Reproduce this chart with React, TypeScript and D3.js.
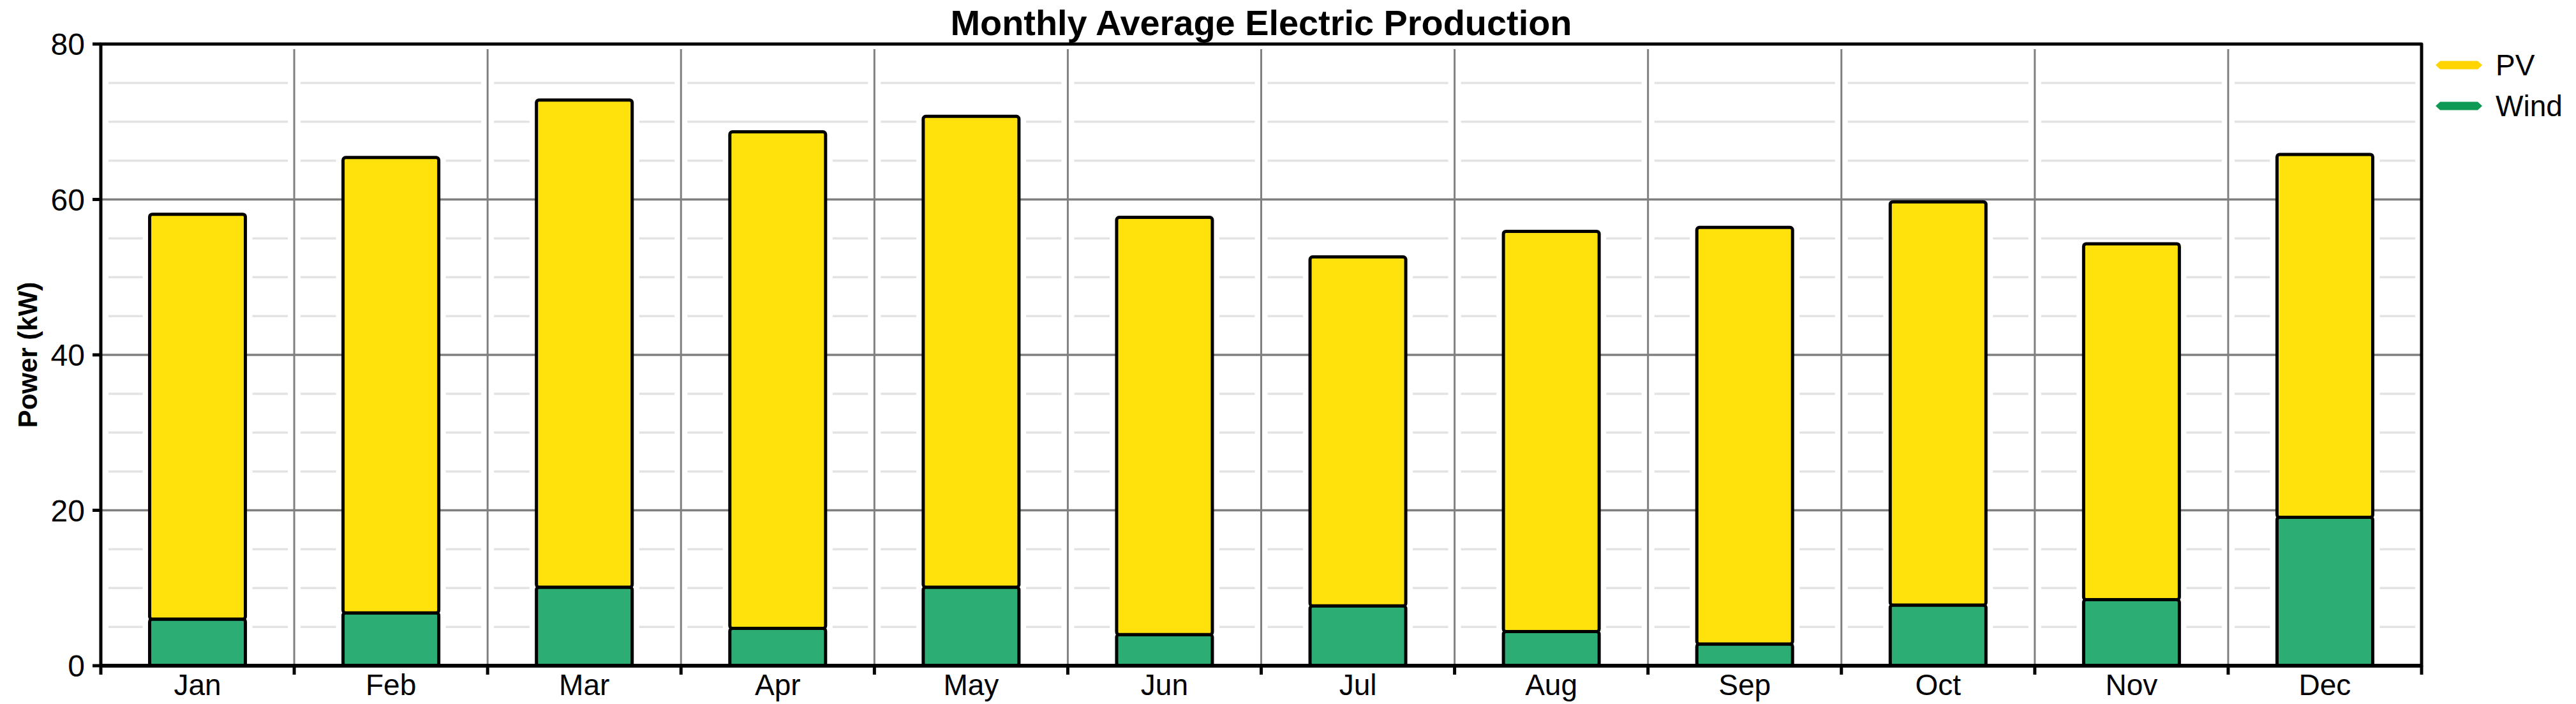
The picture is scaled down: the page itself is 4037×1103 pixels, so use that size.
import React from "react";
import * as d3 from "d3";

const months = ["Jan", "Feb", "Mar", "Apr", "May", "Jun", "Jul", "Aug", "Sep", "Oct", "Nov", "Dec"];
const windValues = [6.0, 6.8, 10.1, 4.8, 10.1, 4.0, 7.7, 4.4, 2.8, 7.8, 8.5, 19.1];
const pvValues = [52.1, 58.6, 62.7, 63.9, 60.6, 53.7, 44.9, 51.5, 53.6, 51.9, 45.8, 46.7];
const seriesNames = ["Wind", "PV"];
const legendNames = ["PV", "Wind"];
const yTicks = [0, 20, 40, 60, 80];
const yMinorTicks = d3.range(5, 80, 5).filter((v) => v % 20 !== 0);

const W = 4037;
const H = 1103;
const M = { left: 158, right: 3795, top: 69, bottom: 1043 };

const fillColor: Record<string, string> = { PV: "#FFE20B", Wind: "#2BAD74" };
const legendColor: Record<string, string> = { PV: "#FFD400", Wind: "#0E9A55" };

export default function App() {
  const x = d3.scaleBand<string>().domain(months).range([M.left, M.right]).padding(0);
  const step = x.step();
  const barW = step * 0.495;
  const y = d3.scaleLinear().domain([0, 80]).range([M.bottom, M.top]);

  const rows = months.map((m, i) => ({ month: m, Wind: windValues[i], PV: pvValues[i] }));
  const stacked = d3.stack<any>().keys(seriesNames)(rows);
  const totals = rows.map((r) => r.Wind + r.PV);

  const boundaries = d3.range(1, months.length).map((k) => M.left + k * step);
  const font = "'Liberation Sans', Arial, sans-serif";

  return (
    <svg width={W} height={H} style={{ position: "absolute", left: 0, top: 0, background: "#fff" }}>
      <rect x={0} y={0} width={W} height={H} fill="#fff" />
      {/* minor grid lines */}
      {yMinorTicks.map((v) => (
        <line key={"mn" + v} x1={M.left + 12} x2={M.right - 10} y1={y(v)} y2={y(v)} stroke="#e3e3e3" strokeWidth={3.5} />
      ))}
      {/* halos around vertical grid lines */}
      {boundaries.map((bx, i) => (
        <rect key={"hv" + i} x={bx - 10} y={M.top + 4} width={20} height={M.bottom - M.top - 4} fill="#fff" />
      ))}
      {/* halos around bars */}
      {months.map((m, i) => {
        const cx = (x(m) as number) + step / 2;
        return (
          <rect key={"hb" + m} x={cx - barW / 2 - 11} y={y(totals[i])} width={barW + 22} height={M.bottom - y(totals[i])} fill="#fff" />
        );
      })}
      {/* major grid lines */}
      {yTicks.filter((v) => v > 0 && v < 80).map((v) => (
        <line key={"mj" + v} x1={M.left} x2={M.right} y1={y(v)} y2={y(v)} stroke="#7f7f7f" strokeWidth={3.5} />
      ))}
      {/* vertical grid lines */}
      {boundaries.map((bx, i) => (
        <line key={"vg" + i} x1={bx} x2={bx} y1={M.top + 8} y2={M.bottom} stroke="#808080" strokeWidth={3} />
      ))}
      {/* bars */}
      {stacked.map((s) => (
        <g key={s.key}>
          {s.map((d, i) => {
            const cx = (x(months[i]) as number) + step / 2;
            const y0 = y(d[0]);
            const y1 = y(d[1]);
            return (
              <rect
                key={s.key + i}
                x={cx - barW / 2}
                y={y1}
                width={barW}
                height={Math.max(0, y0 - y1)}
                rx={4}
                fill={fillColor[s.key]}
                stroke="#000"
                strokeWidth={5}
              />
            );
          })}
        </g>
      ))}
      {/* frame */}
      <path
        d={`M${M.left},${M.bottom} L${M.left},${M.top} L${M.right},${M.top} L${M.right},${M.bottom} Z`}
        fill="none"
        stroke="#000"
        strokeWidth={5}
        strokeLinejoin="round"
      />
      <line x1={M.left} x2={M.right} y1={M.bottom} y2={M.bottom} stroke="#000" strokeWidth={6} />
      {/* y ticks */}
      {yTicks.map((v) => (
        <g key={"yt" + v}>
          <line x1={M.left - 13} x2={M.left} y1={y(v)} y2={y(v)} stroke="#000" strokeWidth={5} />
          <text x={M.left - 25} y={y(v)} dy="0.36em" textAnchor="end" fontFamily={font} fontSize={48} fill="#000">
            {v}
          </text>
        </g>
      ))}
      {/* x ticks */}
      {d3.range(0, months.length + 1).map((k) => (
        <line key={"xt" + k} x1={M.left + k * step} x2={M.left + k * step} y1={M.bottom} y2={M.bottom + 14} stroke="#000" strokeWidth={5} />
      ))}
      {months.map((m) => (
        <text key={"xl" + m} x={(x(m) as number) + step / 2} y={1089} textAnchor="middle" fontFamily={font} fontSize={46} fill="#000">
          {m}
        </text>
      ))}
      {/* y axis title */}
      <text
        transform={`translate(58,${(M.top + M.bottom) / 2}) rotate(-90)`}
        textAnchor="middle"
        fontFamily={font}
        fontWeight="bold"
        fontSize={42}
        fill="#000"
      >
        Power (kW)
      </text>
      {/* title */}
      <text
        x={(M.left + M.right) / 2}
        y={55}
        textAnchor="middle"
        fontFamily={"'Liberation Sans Narrow', " + font}
        fontWeight="bold"
        fontSize={56}
        textLength={974}
        lengthAdjust="spacingAndGlyphs"
        fill="#000"
      >
        Monthly Average Electric Production
      </text>
      {/* legend */}
      {legendNames.map((n, i) => {
        const ly = 102 + i * 64;
        const x0 = 3817;
        const x1 = 3890;
        const h = 6.5;
        const pts = `${x0},${ly} ${x0 + 7},${ly - h} ${x1 - 7},${ly - h} ${x1},${ly} ${x1 - 7},${ly + h} ${x0 + 7},${ly + h}`;
        return (
          <g key={"lg" + n}>
            <polygon points={pts} fill={legendColor[n]} />
            <text x={3911} y={ly + 16} fontFamily={font} fontSize={46} fill="#000">
              {n}
            </text>
          </g>
        );
      })}
    </svg>
  );
}
